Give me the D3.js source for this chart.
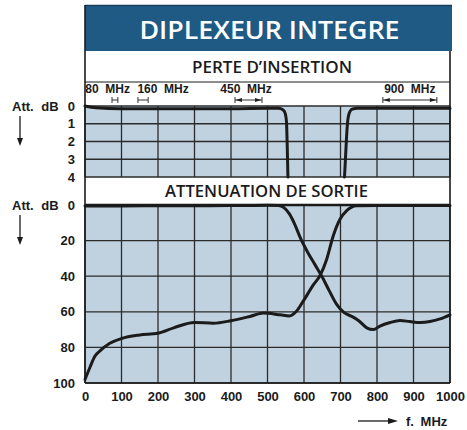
<!DOCTYPE html>
<html>
<head>
<meta charset="utf-8">
<script src="https://cdn.jsdelivr.net/npm/d3@7"></script>
<style>
  html, body { margin: 0; padding: 0; background: #fff; }
  svg { display: block; }
</style>
</head>
<body>
<svg id="chart" width="467" height="430"></svg>
<script>
// ---------- DATA ----------
const chartTitle = "DIPLEXEUR INTEGRE";
const upperTitle = "PERTE D\u2019INSERTION";
const lowerTitle = "ATTENUATION DE SORTIE";
const axisUnitLabel = "Att. dB";
const xAxisLabel = "f. MHz";

const xTicks = [0, 100, 200, 300, 400, 500, 600, 700, 800, 900, 1000];
const upperTicks = [0, 1, 2, 3, 4];
const lowerTicks = [0, 20, 40, 60, 80, 100];

// Band markers (MHz) above the insertion-loss plot
const bandLabels = ["80  MHz", "160  MHz", "450  MHz", "900  MHz"];
const bandLabelFreq = [62, 214, 441, 890];
const bandLo = [74, 145, 411, 816];
const bandHi = [90, 173, 485, 964];
const bandArrows = [false, false, true, true];

// Insertion loss (dB) – low-pass branch
const insLowF  = [0, 30, 100, 200, 300, 400, 500, 530, 543, 549, 552, 554, 556];
const insLowDb = [0, 0.1, 0.15, 0.15, 0.15, 0.15, 0.13, 0.13, 0.22, 0.45, 0.9, 2.2, 4];
// Insertion loss (dB) – high-pass branch
const insHighF  = [711, 714, 717, 720, 724, 729, 736, 746, 800, 900, 1000];
const insHighDb = [4, 2.8, 1.6, 0.8, 0.4, 0.22, 0.15, 0.13, 0.13, 0.13, 0.13];

// Output attenuation (dB) – low-pass branch
const attLowF  = [0, 100, 200, 300, 400, 500, 530, 545, 560, 575, 590, 610, 630, 650, 670, 690, 710, 730, 750, 772, 790, 808, 836, 863, 890, 918, 945, 973, 1000];
const attLowDb = [0.6, 0.5, 0.4, 0.4, 0.3, 0.2, 0.3, 1.5, 5, 11, 18.5, 26.5, 33.5, 40.5, 48.5, 56, 60.5, 62.5, 65, 69, 70, 68, 66, 64.9, 65.5, 66, 65.5, 64, 61.7];
// Output attenuation (dB) – high-pass branch
const attHighF  = [0, 14, 27, 41, 68, 100, 150, 200, 243, 300, 352, 400, 452, 489, 535, 560, 578, 598, 625, 644, 662, 680, 699, 717, 744, 800, 900, 1000];
const attHighDb = [98, 91, 85, 82, 77.7, 75, 73, 72, 69, 66, 66.4, 65, 62.6, 60.7, 61.7, 62.3, 60, 54, 45, 39.6, 30.6, 17.4, 7.9, 3.2, 0.4, 0.3, 0.3, 0.3];

// ---------- LAYOUT ----------
const L = 85, R = 450;
const titleTop = 5, titleBot = 51;
const band1Bot = 82;
const up0 = 106, up1 = 177;
const lo0 = 205, lo1 = 383;

const bgPlot = "#c0d2df";
const titleBlue = "#1f5a84";
const ink = "#1b1b1b";
const labelFont = "'Liberation Sans', Arial, sans-serif";
const titleFont = "'Open Sans', 'Noto Sans', sans-serif";

const svg = d3.select("#chart");
svg.append("rect").attr("width", 467).attr("height", 430).attr("fill", "#fff");

const x = d3.scaleLinear().domain([0, 1000]).range([L, R]);
const yUp = d3.scaleLinear().domain([0, 4]).range([up0, up1]);
const yLo = d3.scaleLinear().domain([0, 100]).range([lo0, lo1]);

// Title band
svg.append("rect").attr("x", L).attr("y", titleTop).attr("width", R - L + 2).attr("height", titleBot - titleTop).attr("fill", titleBlue);
svg.append("line").attr("x1", L).attr("x2", R + 2).attr("y1", titleTop + 0.5).attr("y2", titleTop + 0.5).attr("stroke", "#163f5c").attr("stroke-width", 1.5);
svg.append("text").attr("x", (L + R) / 2 + 2).attr("y", 39)
  .attr("text-anchor", "middle").attr("fill", "#fff")
  .attr("font-family", titleFont).attr("font-weight", 600).attr("font-size", 26)
  .attr("textLength", 260).attr("lengthAdjust", "spacingAndGlyphs")
  .text(chartTitle);

// Section titles
svg.append("text").attr("x", 272).attr("y", 73)
  .attr("text-anchor", "middle").attr("fill", ink)
  .attr("font-family", titleFont).attr("font-weight", 600).attr("font-size", 16.5)
  .attr("textLength", 160).attr("lengthAdjust", "spacingAndGlyphs")
  .text(upperTitle);
svg.append("line").attr("x1", L).attr("x2", R).attr("y1", band1Bot).attr("y2", band1Bot).attr("stroke", ink).attr("stroke-width", 1.2);

svg.append("text").attr("x", 266.5).attr("y", 197)
  .attr("text-anchor", "middle").attr("fill", ink)
  .attr("font-family", titleFont).attr("font-weight", 600).attr("font-size", 16.5)
  .attr("textLength", 203).attr("lengthAdjust", "spacingAndGlyphs")
  .text(lowerTitle);

// Plot backgrounds
svg.append("rect").attr("x", L).attr("y", up0).attr("width", R - L).attr("height", up1 - up0).attr("fill", bgPlot);
svg.append("rect").attr("x", L).attr("y", lo0).attr("width", R - L).attr("height", lo1 - lo0).attr("fill", bgPlot);

// Grids
function grid(yScale, yTicks, top, bot) {
  const g = svg.append("g").attr("stroke", "#2b2b2b").attr("stroke-width", 1.3);
  g.selectAll("line.v").data(xTicks).join("line").attr("class", "v")
    .attr("x1", d => x(d)).attr("x2", d => x(d)).attr("y1", top).attr("y2", bot);
  g.selectAll("line.h").data(yTicks).join("line").attr("class", "h")
    .attr("x1", L).attr("x2", R).attr("y1", d => yScale(d)).attr("y2", d => yScale(d));
}
grid(yUp, upperTicks, up0, up1);
grid(yLo, lowerTicks, lo0, lo1);
// thick top border of lower plot
svg.append("line").attr("x1", L).attr("x2", R).attr("y1", lo0).attr("y2", lo0).attr("stroke", ink).attr("stroke-width", 2.4);
svg.append("line").attr("x1", L).attr("x2", R).attr("y1", lo1).attr("y2", lo1).attr("stroke", ink).attr("stroke-width", 1.6);

// Frame sides
svg.append("line").attr("x1", L).attr("x2", L).attr("y1", titleTop).attr("y2", lo1).attr("stroke", ink).attr("stroke-width", 1.6);
svg.append("line").attr("x1", R).attr("x2", R).attr("y1", titleBot).attr("y2", lo1).attr("stroke", ink).attr("stroke-width", 1.6);

// Curves
const lineUp = d3.line().x(d => x(d[0])).y(d => yUp(d[1])).curve(d3.curveMonotoneX);
const lineLo = d3.line().x(d => x(d[0])).y(d => yLo(d[1])).curve(d3.curveMonotoneX);
const zip = (a, b) => a.map((v, i) => [v, b[i]]);
const curveStyle = p => p.attr("fill", "none").attr("stroke", ink).attr("stroke-width", 3).attr("stroke-linejoin", "round").attr("stroke-linecap", "round");

svg.append("path").datum(zip(insLowF, insLowDb)).attr("d", lineUp).call(curveStyle);
svg.append("path").datum(zip(insHighF, insHighDb)).attr("d", lineUp).call(curveStyle);
svg.append("path").datum(zip(attLowF, attLowDb)).attr("d", lineLo).call(curveStyle);
svg.append("path").datum(zip(attHighF, attHighDb)).attr("d", lineLo).call(curveStyle);

// Axes (labels only)
function styleAxis(g) {
  g.select(".domain").remove();
  g.selectAll(".tick line").remove();
  g.selectAll("text").attr("font-family", labelFont).attr("font-weight", "bold").attr("font-size", 13).attr("fill", ink);
}
svg.append("g").attr("transform", `translate(${L},0)`)
  .call(d3.axisLeft(yUp).tickValues(upperTicks).tickSize(0).tickPadding(10).tickFormat(d3.format("d")))
  .call(styleAxis);
svg.append("g").attr("transform", `translate(${L},0)`)
  .call(d3.axisLeft(yLo).tickValues(lowerTicks).tickSize(0).tickPadding(10).tickFormat(d3.format("d")))
  .call(styleAxis);
svg.append("g").attr("transform", `translate(0,${lo1})`)
  .call(d3.axisBottom(x).tickValues(xTicks).tickSize(0).tickPadding(9).tickFormat(d3.format("d")))
  .call(styleAxis);

// "Att. dB" labels and downward arrows
[yUp(0), yLo(0)].forEach(yy => {
  svg.append("text").attr("x", 12).attr("y", yy + 4.5)
    .attr("font-family", labelFont).attr("font-weight", "bold").attr("font-size", 13).attr("fill", ink)
    .attr("word-spacing", 4)
    .text(axisUnitLabel);
  svg.append("line").attr("x1", 20).attr("x2", 20).attr("y1", yy + 10).attr("y2", yy + 33).attr("stroke", ink).attr("stroke-width", 1.3);
  svg.append("path").attr("d", `M${17},${yy + 32} L${23},${yy + 32} L${20},${yy + 40} Z`).attr("fill", ink);
});

// x-axis label with arrow
svg.append("line").attr("x1", 358).attr("x2", 390).attr("y1", 421).attr("y2", 421).attr("stroke", ink).attr("stroke-width", 1.3);
svg.append("path").attr("d", "M388,418 L398,421 L388,424 Z").attr("fill", ink);
svg.append("text").attr("x", 406).attr("y", 426)
  .attr("font-family", labelFont).attr("font-weight", "bold").attr("font-size", 13).attr("fill", ink)
  .attr("word-spacing", 3)
  .text(xAxisLabel);

// Band markers
const bandY = 97;
bandLabels.forEach((lab, i) => {
  svg.append("text").attr("x", x(bandLabelFreq[i])).attr("y", 93)
    .attr("text-anchor", "middle")
    .attr("font-family", labelFont).attr("font-weight", "bold").attr("font-size", 12).attr("fill", ink)
    .attr("xml:space", "preserve")
    .text(lab);
  const x0 = x(bandLo[i]), x1 = x(bandHi[i]);
  const g = svg.append("g").attr("stroke", "#333").attr("stroke-width", 1);
  g.append("line").attr("x1", x0).attr("x2", x1).attr("y1", bandY + 3).attr("y2", bandY + 3);
  g.append("line").attr("x1", x0).attr("x2", x0).attr("y1", bandY).attr("y2", bandY + 6);
  g.append("line").attr("x1", x1).attr("x2", x1).attr("y1", bandY).attr("y2", bandY + 6);
  if (bandArrows[i]) {
    svg.append("path").attr("d", `M${x0 + 0.5},${bandY + 3} L${x0 + 7},${bandY + 1} L${x0 + 7},${bandY + 5} Z`).attr("fill", "#222");
    svg.append("path").attr("d", `M${x1 - 0.5},${bandY + 3} L${x1 - 7},${bandY + 1} L${x1 - 7},${bandY + 5} Z`).attr("fill", "#222");
  }
});
</script>
</body>
</html>
